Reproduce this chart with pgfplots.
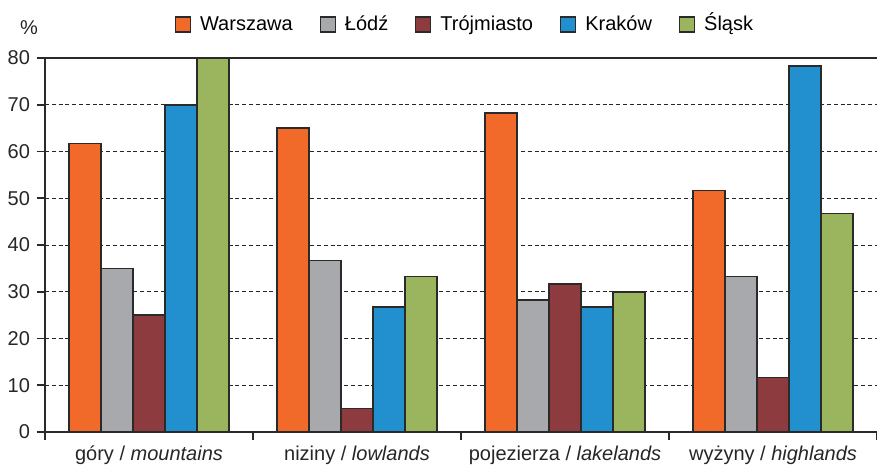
\documentclass[border=0pt]{standalone}
\usepackage{fontspec}
\setmainfont{Liberation Sans}
\usepackage{pgfplots}
\pgfplotsset{compat=1.18}
\definecolor{cW}{HTML}{F26A2A}
\definecolor{cL}{HTML}{A8A9AC}
\definecolor{cT}{HTML}{8E3B40}
\definecolor{cK}{HTML}{2290CF}
\definecolor{cS}{HTML}{9BB55E}
\definecolor{edge}{HTML}{2A2A2A}
\begin{document}
\begin{tikzpicture}
\begin{axis}[name=ax, scale only axis, width=416pt, height=187pt,
  xmin=-0.5, xmax=3.5, ymin=0, ymax=80,
  ybar=0pt, bar width=16pt,
  axis x line*=bottom, axis y line*=left,
  axis line style={edge, line width=0.8pt},
  tick style={edge, line width=0.8pt},
  tick align=outside, major tick length=4pt,
  ytick={0,10,...,80},
  ymajorgrids,
  major grid style={black!85, line width=0.5pt, dash pattern=on 2pt off 1.4pt},
  extra y ticks={80}, extra y tick labels={},
  extra y tick style={grid=major, major grid style={solid, edge, line width=0.8pt}, major tick length=0pt},
  xtick={-0.5,0.5,1.5,2.5,3.5},
  x tick label as interval,
  xticklabels={g\'ory / \textit{mountains}, niziny / \textit{lowlands}, pojezierza / \textit{lakelands}, wy\.zyny / \textit{highlands}},
  x tick label style={yshift=0.5pt},
  font=\fontsize{10}{12}\selectfont,
  tick label style={font=\fontsize{10}{12}\selectfont, text=black!85},
  /pgf/number format/assume math mode=true,
  legend columns=5,
  legend style={draw=none, at={(0.506,1.0896)}, anchor=center, font=\fontsize{10}{12}\selectfont,
    nodes={text height=1.6ex, text depth=0.45ex},
    /tikz/every odd column/.append style={column sep=2.5pt},
    /tikz/every even column/.append style={column sep=11.5pt}, inner sep=0pt},
  every axis plot post/.append style={legend image code/.code={\draw[##1, line width=0.6pt] (0pt,-3.75pt) rectangle (7.5pt,3.75pt);}},
  clip=false,
]
\addplot[fill=cW, draw=edge, line width=0.8pt] coordinates {(0,61.7) (1,65.0) (2,68.3) (3,51.7)};
\addplot[fill=cL, draw=edge, line width=0.8pt] coordinates {(0,35.0) (1,36.7) (2,28.3) (3,33.3)};
\addplot[fill=cT, draw=edge, line width=0.8pt] coordinates {(0,25.0) (1,5.0) (2,31.7) (3,11.7)};
\addplot[fill=cK, draw=edge, line width=0.8pt] coordinates {(0,70.0) (1,26.7) (2,26.7) (3,78.3)};
\addplot[fill=cS, draw=edge, line width=0.8pt] coordinates {(0,80.0) (1,33.3) (2,30.0) (3,46.7)};
\legend{Warszawa, \L\'od\'z, Tr\'ojmiasto, Krak\'ow, \'Sl\k{a}sk}
\end{axis}
\node[font=\fontsize{10}{12}\selectfont, text=black!85] at ([xshift=-8pt,yshift=15pt]ax.north west) {\%};
\pgfresetboundingbox
\path[use as bounding box] ([xshift=-22.5pt,yshift=-17.5pt]ax.south west) rectangle ([yshift=29pt]ax.north east);
\end{tikzpicture}
\end{document}
